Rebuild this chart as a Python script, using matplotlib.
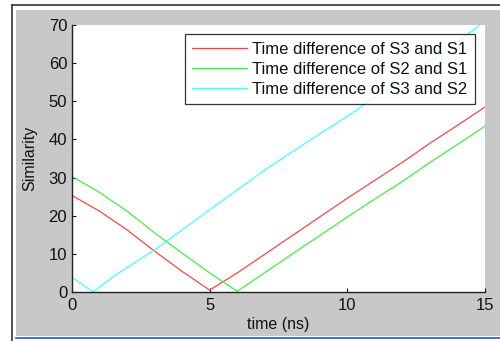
import matplotlib
matplotlib.use("Agg")
import matplotlib.pyplot as plt
from matplotlib.patches import Rectangle
from matplotlib.lines import Line2D

plt.rcParams['font.family'] = ['Liberation Sans', 'DejaVu Sans']

# Data
x_s31 = [0, 1, 2, 3, 4, 5, 6, 7, 8, 9, 10, 11, 12, 13, 14, 15]
y_s31 = [25.3, 21.2, 16.3, 10.7, 5.4, 0.5, 5, 9.9, 14.8, 19.7, 24.6, 29.3, 34, 39, 43.7, 48.5]
x_s21 = [0, 1, 2, 3, 4, 5, 6, 7, 8, 9, 10, 11, 12, 13, 14, 15]
y_s21 = [30.3, 26.1, 21.2, 15.5, 10.2, 5, 0.2, 5.1, 10, 14.8, 19.7, 24.4, 29, 34, 38.7, 43.5]
x_s32 = [0, 0.76, 1.5, 3, 5, 7, 8, 9, 10, 11, 12, 13, 14, 14.8]
y_s32 = [3.9, 0, 4.1, 11.1, 21.6, 32, 36.8, 41.5, 46.1, 51, 55.8, 60.6, 65.5, 70]

labels = ["Time difference of S3 and S1",
          "Time difference of S2 and S1",
          "Time difference of S3 and S2"]
xticks = [0, 5, 10, 15]
yticks = [0, 10, 20, 30, 40, 50, 60, 70]

W, H = 500, 341
fig = plt.figure(figsize=(5, 3.41), dpi=100)
fig.patch.set_facecolor('white')

def fx(px):
    return px / W

def fy(py):
    return 1 - py / H

# window decorations
fig.patches.append(Rectangle((fx(16), fy(336)), fx(500) - fx(16), fy(10) - fy(336),
                             transform=fig.transFigure, facecolor='#c8c8c8',
                             edgecolor='none', zorder=-5))
fig.lines.append(Line2D([fx(12), fx(12)], [fy(5), fy(341)], transform=fig.transFigure,
                        color='#333333', lw=1.2, zorder=-4))
fig.lines.append(Line2D([fx(12), fx(500)], [fy(5), fy(5)], transform=fig.transFigure,
                        color='#333333', lw=1.2, zorder=-4))
fig.lines.append(Line2D([fx(16), fx(500)], [fy(337.5), fy(337.5)], transform=fig.transFigure,
                        color='#2255cc', lw=1.2, zorder=-4))

ax = fig.add_axes([fx(72), fy(292), fx(485) - fx(72), fy(25) - fy(292)])
ax.set_zorder(1)
ax.set_facecolor('white')
ax.plot(x_s31, y_s31, color='#ff4545', lw=0.9, label=labels[0])
ax.plot(x_s21, y_s21, color='#45ee45', lw=0.9, label=labels[1])
ax.plot(x_s32, y_s32, color='#45ffff', lw=0.9, label=labels[2])

ax.set_xlim(0, 15)
ax.set_ylim(0, 70)
ax.set_xticks(xticks)
ax.set_yticks(yticks)
ax.tick_params(direction='in', length=3, labelsize=12, colors='#111111')
ax.tick_params(axis='y', pad=3.5)
ax.tick_params(axis='x', pad=4)
for s in ['top', 'right']:
    ax.spines[s].set_visible(False)
for s in ['left', 'bottom']:
    ax.spines[s].set_linewidth(1.0)
    ax.spines[s].set_color('#222222')

ax.set_xlabel("time (ns)", fontsize=11.5, color='#111111')
ax.set_ylabel("Similarity", fontsize=11.5, color='#111111')
ax.xaxis.set_label_coords(0.5, -(325 - 292) / 267, transform=ax.transAxes)
ax.xaxis.label.set_va('center')
ax.yaxis.set_label_coords(-(72 - 30) / 413, 0.5, transform=ax.transAxes)
ax.yaxis.label.set_va('center')

leg = ax.legend(loc='upper right', bbox_to_anchor=(fx(475), fy(34)), bbox_transform=fig.transFigure,
                prop={'size': 12}, frameon=True, fancybox=False, edgecolor='black',
                handlelength=3.3, borderaxespad=0.0, labelspacing=0.3,
                handletextpad=0.3, borderpad=0.45)
leg.get_frame().set_linewidth(0.9)
for t in leg.get_texts():
    t.set_color('#111111')

fig.savefig("out.png", dpi=100)
